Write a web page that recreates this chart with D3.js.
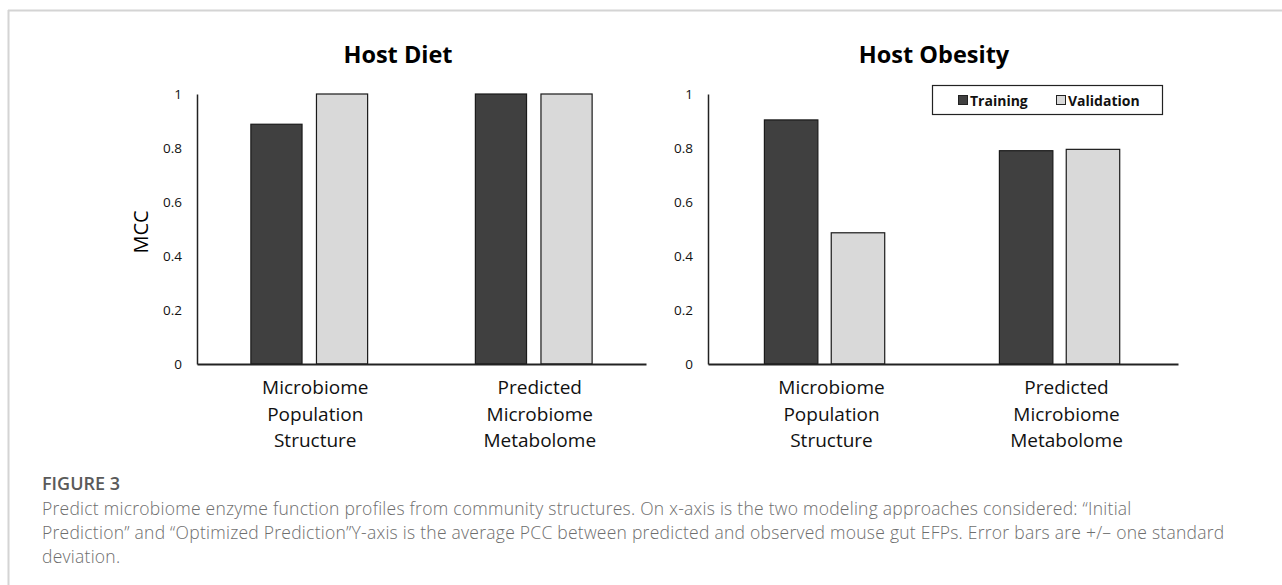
<!DOCTYPE html>
<html>
<head>
<meta charset="utf-8">
<script src="https://cdn.jsdelivr.net/npm/d3@7"></script>
<style>
  html, body { margin: 0; padding: 0; background: #fff; }
  svg { display: block; }
</style>
</head>
<body>
<svg id="chart" width="1282" height="585"></svg>
<script>
// ---- data ----
const categories = ["Microbiome Population Structure", "Predicted Microbiome Metabolome"];
const categoryLines = [["Microbiome", "Population", "Structure"], ["Predicted", "Microbiome", "Metabolome"]];
const seriesNames = ["Training", "Validation"];
const dietTraining = [0.888, 1.0];
const dietValidation = [1.0, 1.0];
const obesityTraining = [0.904, 0.79];
const obesityValidation = [0.486, 0.795];
const yTicks = [0, 0.2, 0.4, 0.6, 0.8, 1];
const panelTitles = ["Host Diet", "Host Obesity"];
const yLabel = "MCC";
const figureLabel = "FIGURE 3";
const captionLines = [
  "Predict microbiome enzyme function profiles from community structures. On x-axis is the two modeling approaches considered: \u201CInitial",
  "Prediction\u201D and \u201COptimized Prediction\u201DY-axis is the average PCC between predicted and observed mouse gut EFPs. Error bars are +/\u2013 one standard",
  "deviation."
];

// ---- styling / layout ----
const chartFont = "'Open Sans', 'Noto Sans', sans-serif";
const colors = { Training: "#404040", Validation: "#d9d9d9" };
const svg = d3.select("#chart");

// frame
svg.append("line").attr("x1", 8).attr("x2", 1282).attr("y1", 10.5).attr("y2", 10.5)
  .attr("stroke", "#d4d4d4").attr("stroke-width", 2);
svg.append("line").attr("x1", 8.5).attr("x2", 8.5).attr("y1", 10).attr("y2", 585)
  .attr("stroke", "#d4d4d4").attr("stroke-width", 2);

const panels = [
  { title: panelTitles[0], training: dietTraining, validation: dietValidation, x0: 197, x1: 646, titleX: 398, inner: [0.24, 0.76], pad: 0.22, labelDx: 6 },
  { title: panelTitles[1], training: obesityTraining, validation: obesityValidation, x0: 708, x1: 1178, titleX: 934, inner: [0.24, 0.752], pad: 0.2, labelDx: 6 }
];

const y = d3.scaleLinear().domain([0, 1]).range([364, 94]);

panels.forEach((p, pi) => {
  const g = svg.append("g");
  const x = d3.scaleBand().domain(categories).range([p.x0, p.x1]).padding(0);
  const bw = x.bandwidth();
  const xs = d3.scaleBand().domain(seriesNames).range([bw * p.inner[0], bw * p.inner[1]]).paddingInner(p.pad);

  const rows = categories.map((c, i) => ({ cat: c, vals: [
    { s: "Training", v: p.training[i] }, { s: "Validation", v: p.validation[i] }] }));

  // bars
  const grp = g.selectAll(".grp").data(rows).join("g")
    .attr("transform", d => `translate(${x(d.cat)},0)`);
  grp.selectAll("rect").data(d => d.vals).join("rect")
    .attr("x", d => xs(d.s))
    .attr("y", d => y(d.v))
    .attr("width", xs.bandwidth())
    .attr("height", d => y(0) - y(d.v))
    .attr("fill", d => colors[d.s])
    .attr("stroke", "#1a1a1a").attr("stroke-width", 1.2);

  // y axis
  const ya = g.append("g").attr("transform", `translate(${p.x0},0)`)
    .call(d3.axisLeft(y).tickValues(yTicks).tickSize(0).tickPadding(15).tickFormat(d => String(d)));
  ya.select(".domain").attr("stroke", "#222").attr("stroke-width", 1.5);
  ya.selectAll("text").attr("font-family", chartFont).attr("font-size", 13.5).attr("fill", "#111");

  // x axis
  const xa = g.append("g").attr("transform", `translate(0,${y(0)})`)
    .call(d3.axisBottom(x).tickSize(0).tickFormat(""));
  xa.select(".domain").attr("stroke", "#222").attr("stroke-width", 2);

  // category labels
  categories.forEach((c, i) => {
    const cx = x(c) + bw / 2 + p.labelDx;
    const t = g.append("text")
      .attr("x", cx)
      .attr("y", 394)
      .attr("text-anchor", "middle")
      .attr("font-family", chartFont).attr("font-size", 19).attr("fill", "#111");
    categoryLines[i].forEach((ln, k) => {
      t.append("tspan").attr("x", cx).attr("dy", k === 0 ? 0 : 26.5).text(ln);
    });
  });

  // title
  g.append("text").attr("x", p.titleX).attr("y", 63).attr("text-anchor", "middle")
    .attr("font-family", chartFont).attr("font-weight", 700).attr("font-size", 23.5)
    .attr("fill", "#000").text(p.title);
});

// y label
svg.append("text").attr("transform", "translate(148,232) rotate(-90)")
  .attr("text-anchor", "middle").attr("font-family", chartFont).attr("font-size", 20)
  .attr("fill", "#000").text(yLabel);

// legend
const lg = svg.append("g");
lg.append("rect").attr("x", 932.5).attr("y", 85.5).attr("width", 230).attr("height", 29)
  .attr("fill", "#fff").attr("stroke", "#222").attr("stroke-width", 1.2);
const legendItems = [{ s: "Training", sx: 958 }, { s: "Validation", sx: 1056 }];
legendItems.forEach(it => {
  lg.append("rect").attr("x", it.sx + 0.5).attr("y", 95.5).attr("width", 9).attr("height", 9)
    .attr("fill", colors[it.s]).attr("stroke", "#222").attr("stroke-width", 1);
  lg.append("text").attr("x", it.sx + 12).attr("y", 105.5)
    .attr("font-family", chartFont).attr("font-weight", 700).attr("font-size", 14)
    .attr("fill", "#111").text(it.s);
});

// caption
svg.append("text").attr("x", 42).attr("y", 490)
  .attr("font-family", "'Open Sans', sans-serif").attr("font-weight", 600).attr("font-size", 18)
  .attr("fill", "#5a5a5a").text(figureLabel);
captionLines.forEach((ln, i) => {
  svg.append("text").attr("x", 42).attr("y", 515 + i * 24)
    .attr("font-family", "'Open Sans', sans-serif").attr("font-weight", 300).attr("font-size", 17.5)
    .attr("letter-spacing", 0.25)
    .attr("fill", "#6e6e6e").text(ln);
});
</script>
</body>
</html>
